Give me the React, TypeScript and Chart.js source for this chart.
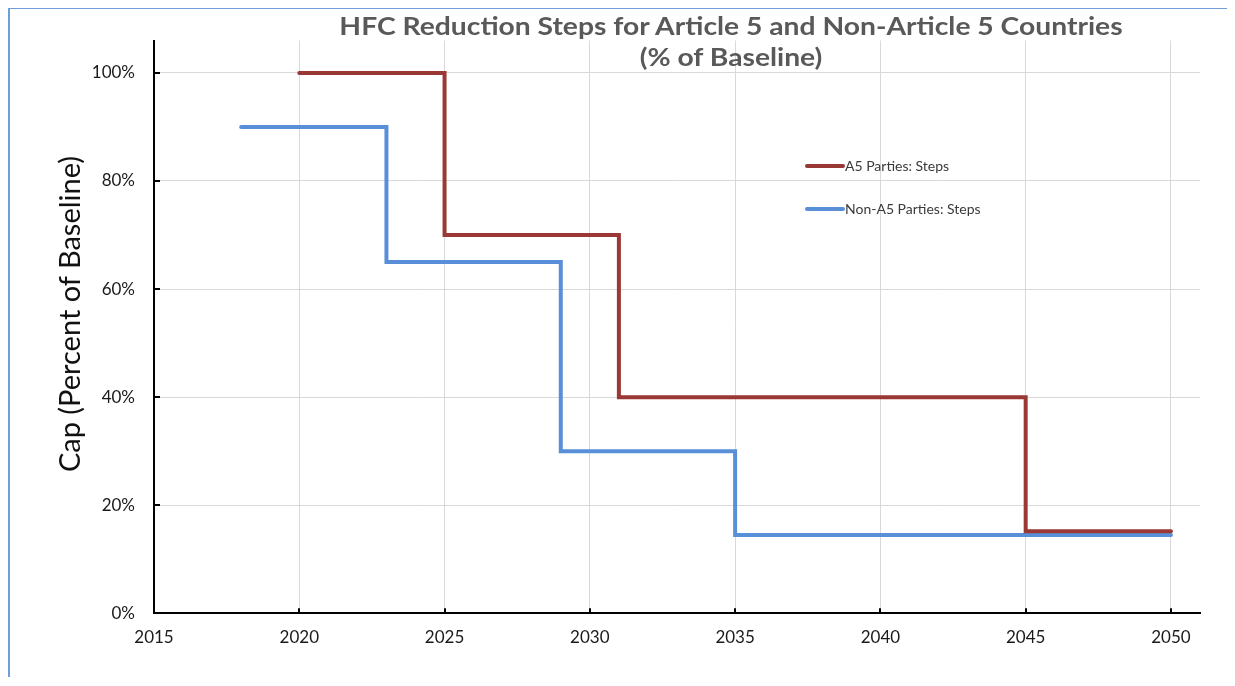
import React, { useEffect, useRef } from "react";
import { Chart, registerables } from "chart.js";

Chart.register(...registerables);

const chartTitleLines = ["HFC Reduction Steps for Article 5 and Non-Article 5 Countries", "(% of Baseline)"];
const yAxisTitle = "Cap (Percent of Baseline)";

const a5Label = "A5 Parties: Steps";
const a5Years = [2020, 2025, 2031, 2045, 2050];
const a5Caps = [100, 70, 40, 15.2, 15.2];

const nonA5Label = "Non-A5 Parties: Steps";
const nonA5Years = [2018, 2023, 2029, 2035, 2050];
const nonA5Caps = [90, 65, 30, 14.5, 14.5];

const xTickValues = [2015, 2020, 2025, 2030, 2035, 2040, 2045, 2050];
const yTickValues = [0, 20, 40, 60, 80, 100];

const RED = "#993834";
const BLUE = "#588fd8";
const FONT = "Lato, 'Open Sans', sans-serif";

const W = 1219;
const H = 670;

const innerTicksAndLegend = {
  id: "innerTicksAndLegend",
  afterDraw(chart: any) {
    const { ctx, chartArea, scales } = chart;
    const x = scales.x;
    const y = scales.y;
    ctx.save();
    ctx.strokeStyle = "#000";
    ctx.lineWidth = 2;
    xTickValues.forEach((v) => {
      if (v === xTickValues[0]) return;
      const px = Math.round(x.getPixelForValue(v));
      ctx.beginPath();
      ctx.moveTo(px, chartArea.bottom);
      ctx.lineTo(px, chartArea.bottom - 5);
      ctx.stroke();
    });
    yTickValues.forEach((v) => {
      if (v === yTickValues[0]) return;
      const py = Math.round(y.getPixelForValue(v));
      ctx.beginPath();
      ctx.moveTo(chartArea.left, py);
      ctx.lineTo(chartArea.left + 6, py);
      ctx.stroke();
    });
    // legend inside plot
    const items = chart.data.datasets.map((d: any) => ({ label: d.label, color: d.borderColor }));
    const lx = 799;
    const ly = 158;
    const gap = 43;
    items.forEach((it: any, i: number) => {
      const yy = ly + i * gap;
      ctx.strokeStyle = it.color;
      ctx.lineWidth = 4;
      ctx.lineCap = "round";
      ctx.beginPath();
      ctx.moveTo(lx, yy);
      ctx.lineTo(lx + 36, yy);
      ctx.stroke();
      ctx.fillStyle = "#3a3a3a";
      ctx.font = `14px ${FONT}`;
      ctx.textBaseline = "middle";
      ctx.textAlign = "left";
      ctx.fillText(it.label, lx + 38, yy);
    });
    ctx.restore();
  },
};

export default function App() {
  const ref = useRef<HTMLCanvasElement>(null);
  useEffect(() => {
    if (!ref.current) return;
    const chart = new Chart(ref.current, {
      type: "line",
      data: {
        datasets: [
          {
            label: a5Label,
            data: a5Years.map((yr, i) => ({ x: yr, y: a5Caps[i] })),
            borderColor: RED,
            backgroundColor: RED,
            borderWidth: 4,
            stepped: "before",
            pointRadius: 0,
            borderCapStyle: "round",
            borderJoinStyle: "miter",
            fill: false,
          },
          {
            label: nonA5Label,
            data: nonA5Years.map((yr, i) => ({ x: yr, y: nonA5Caps[i] })),
            borderColor: BLUE,
            backgroundColor: BLUE,
            borderWidth: 4,
            stepped: "before",
            pointRadius: 0,
            borderCapStyle: "round",
            borderJoinStyle: "miter",
            fill: false,
          },
        ],
      },
      options: {
        responsive: false,
        animation: false,
        layout: { padding: { left: 0, right: 27, top: 32.5, bottom: 0 } },
        plugins: {
          legend: { display: false },
          title: { display: false },
          tooltip: { enabled: false },
        },
        scales: {
          x: {
            type: "linear",
            min: 2015,
            max: 2051,
            afterBuildTicks: (s: any) => {
              s.ticks = xTickValues.map((v) => ({ value: v }));
            },
            afterFit: (s: any) => {
              s.height = 64.7;
            },
            grid: { color: "#d9d9d9", lineWidth: 1, drawTicks: false },
            border: { display: true, color: "#000", width: 2 },
            ticks: {
              padding: 14,
              color: "#1a1a1a",
              font: { family: FONT, size: 17 },
              maxRotation: 0,
              autoSkip: false,
              callback: (v: any) => String(v),
            },
          },
          y: {
            type: "linear",
            min: 0,
            max: 106,
            afterBuildTicks: (s: any) => {
              s.ticks = yTickValues.map((v) => ({ value: v }));
            },
            afterFit: (s: any) => {
              s.width = 146;
            },
            grid: { color: "#d9d9d9", lineWidth: 1, drawTicks: false },
            border: { display: true, color: "#000", width: 2 },
            ticks: {
              padding: 19,
              color: "#1a1a1a",
              font: { family: FONT, size: 17 },
              autoSkip: false,
              callback: (v: any) => `${v}%`,
            },
          },
        },
      },
      plugins: [innerTicksAndLegend],
    } as any);
    return () => chart.destroy();
  }, []);

  return (
    <div style={{ position: "relative", width: W, height: H }}>
      <div
        style={{
          position: "absolute",
          left: 0,
          top: -1,
          width: W + 8,
          height: H,
          borderTop: "2px solid #6e9fd9",
          borderLeft: "2px solid #6e9fd9",
          boxSizing: "border-box",
        }}
      />
      <canvas ref={ref} width={W} height={H} style={{ position: "absolute", left: 0, top: 0 }} />
      <div
        style={{
          position: "absolute",
          left: 731 - 8 - 450,
          width: 900,
          top: 2,
          textAlign: "center",
          fontFamily: FONT,
          fontWeight: 700,
          fontSize: 25,
          lineHeight: "31px",
          color: "#595959",
          transform: "scaleX(1.13)",
          transformOrigin: "50% 50%",
        }}
      >
        {chartTitleLines.map((t) => (
          <div key={t}>{t}</div>
        ))}
      </div>
      <div
        style={{
          position: "absolute",
          left: 61 - 250,
          top: 306 - 20,
          width: 500,
          height: 40,
          lineHeight: "40px",
          textAlign: "center",
          transform: "rotate(-90deg)",
          fontFamily: FONT,
          fontSize: 29,
          color: "#111",
        }}
      >
        {yAxisTitle}
      </div>
    </div>
  );
}
